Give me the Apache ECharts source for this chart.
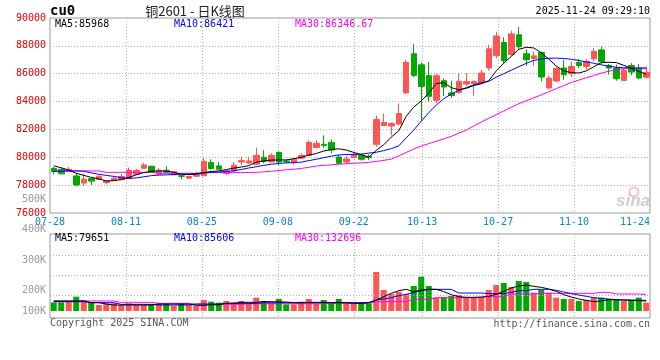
<!DOCTYPE html>
<html><head><meta charset="utf-8">
<script src="https://cdn.jsdelivr.net/npm/echarts@6/dist/echarts.min.js"></script>
<style>html,body{margin:0;padding:0;background:#fff}#c{width:660px;height:360px}</style>
</head><body><div id="c"></div>
<script>
// ---------- data ----------
const dates = ['07-28','07-29','07-30','07-31','08-01','08-04','08-05','08-06','08-07','08-08',
'08-11','08-12','08-13','08-14','08-15','08-18','08-19','08-20','08-21','08-22',
'08-25','08-26','08-27','08-28','08-29','09-01','09-02','09-03','09-04','09-05',
'09-08','09-09','09-10','09-11','09-12','09-15','09-16','09-17','09-18','09-19',
'09-22','09-23','09-24','09-25','09-26','09-29','09-30','10-09','10-10','10-13',
'10-14','10-15','10-16','10-17','10-20','10-21','10-22','10-23','10-24','10-27',
'10-28','10-29','10-30','10-31','11-03','11-04','11-05','11-06','11-07','11-10',
'11-11','11-12','11-13','11-14','11-17','11-18','11-19','11-20','11-21','11-24'];

const open = [79200,79140,79000,78660,78150,78480,78410,78190,78340,78400,
78500,78780,79210,79360,78790,79070,78740,78680,78500,78640,
78670,79620,79380,78840,79020,79660,79590,79500,80000,79660,
80340,79740,79620,79930,80140,80710,80930,81070,80020,79660,
79980,80140,80070,80930,82290,82240,82380,84620,87430,86640,
85860,84090,85500,84620,84660,85260,85290,85340,86410,87290,
88240,87380,88790,87430,87090,87520,84980,85480,86410,86000,
86810,86520,87070,87710,86580,86410,85520,86590,86410,85750];

const close = [78980,78810,79140,78010,78430,78290,78640,78310,78500,78620,
79080,79050,79450,78930,79070,78920,78980,78630,78620,78790,
79710,79190,79140,79020,79430,79760,79740,80140,79690,80140,
79660,79680,79860,80140,81070,81000,80860,80520,79570,79880,
80190,79860,80000,82710,82500,82430,83140,86810,85880,85090,
84380,85860,85050,84430,85450,85450,85450,86050,87790,88710,
86950,88860,87950,87000,87280,85760,85690,86380,85930,86520,
86590,86880,87590,86880,86410,85640,86240,86120,85690,86100];

const low = [78760,78780,78980,77950,77950,78000,78400,78050,78300,78330,
78430,78760,79150,78900,78760,78860,78740,78430,78450,78600,
78650,79100,79100,78710,78950,79430,79500,79450,79570,79600,
79380,79560,79460,79900,80100,80640,80690,80290,79500,79500,
79950,79760,79790,80760,82250,81570,82300,84550,85740,82590,
84020,83900,84390,84260,84550,85090,84430,85300,86240,87100,
86760,87300,87700,86570,86570,85450,84860,85380,85570,85760,
86400,86290,86900,86700,85930,85500,85500,85900,85600,85650];

const high = [79300,79230,79310,78860,78840,78500,78700,78330,78660,78800,
79260,79170,79600,79380,79210,79360,79000,78720,78680,78950,
79950,79860,79660,79070,79660,80020,80050,80690,80500,80290,
80430,79850,79950,80290,81210,81210,81570,81290,80140,80100,
80330,80290,80210,83000,83140,82500,83860,87000,88140,86810,
86830,86000,85650,85500,86050,86050,85500,86290,88070,89020,
88620,89090,89360,87760,87590,87590,85860,86520,87000,86890,
87070,87070,87840,87950,86700,86650,86350,86760,86700,86520];

const ma5 = [79380,79250,79080,78850,78700,78560,78450,78300,78320,78400,
78550,78740,78900,78990,79020,79010,78920,78790,78760,78780,
78900,78980,79020,79120,79220,79300,79400,79650,79750,79800,
79810,79810,79900,80000,80150,80270,80450,80560,80610,80520,
80350,80200,80000,80500,80900,81450,81900,82950,83600,84050,
84600,85300,85350,85000,84850,84950,85150,85280,85500,86200,
86750,87250,87750,87900,87850,87500,87050,86550,86200,86080,
86050,86200,86500,86800,86820,86800,86600,86400,86150,85968];

const ma10 = [78980,79010,79020,79020,79000,78880,78780,78700,78630,78540,
78480,78520,78600,78680,78720,78740,78760,78790,78800,78840,
78870,78920,78950,78990,79030,79120,79230,79320,79420,79500,
79560,79600,79620,79650,79760,79860,79970,80080,80170,80200,
80210,80220,80300,80360,80480,80620,80820,81400,81950,82600,
83200,83750,84200,84550,84800,85000,85200,85350,85450,85750,
86000,86250,86500,86750,86950,87060,87110,87120,87090,87040,
86950,86850,86750,86640,86550,86460,86430,86410,86410,86421];

const ma30 = [79020,79020,79020,79020,79020,79020,79020,78920,78920,78920,
78920,78920,78920,78920,78850,78850,78850,78850,78850,78850,
78900,78900,78900,78900,78900,78900,78910,78920,78950,79000,
79050,79100,79140,79200,79280,79370,79420,79460,79500,79540,
79570,79600,79640,79700,79780,79870,80100,80350,80600,80800,
80980,81150,81320,81500,81730,81950,82250,82520,82800,83050,
83330,83590,83850,84060,84260,84480,84700,84930,85140,85370,
85540,85710,85870,86040,86180,86290,86360,86400,86380,86347];

const volume = [69300,69300,74700,114700,88000,69300,48000,61300,61300,48000,
61300,48000,48000,53300,61300,61300,42700,61300,48000,40000,
88000,74700,66700,80000,69300,80000,66700,106700,80000,69300,
96000,53300,53300,74700,96000,61300,88000,69300,96000,69300,
69300,69300,61300,312000,168000,136000,154700,136000,200000,274700,
200000,109300,109300,120000,128000,109300,109300,109300,168000,208000,
224000,192000,240000,232000,146700,168000,146700,106700,96000,96000,
80000,88000,106700,106700,96000,88000,80000,88000,106700,66700];

const volMa5 = [80000,80000,80000,80000,80000,66700,66700,56000,48000,48000,
48000,48000,48000,48000,56000,56000,56000,56000,56000,45000,
45000,50000,50000,61300,61300,69300,69300,69300,74700,74700,
72000,72000,66700,66700,69300,69300,69300,66700,66700,66700,
61300,61300,66700,88000,114700,141300,162700,173300,154700,168000,
173300,173300,154700,130700,114700,109300,109300,112000,117300,133300,
157300,184000,200000,208000,197300,189300,176000,157300,130700,112000,
96000,85300,74700,80000,90700,90700,88000,85300,82700,79700];

const volMa10 = [74700,74700,74700,74700,74700,66700,66700,66700,66700,53300,
53300,53300,53300,53300,48000,48000,48000,48000,48000,56000,
56000,56000,56000,61300,61300,61300,61300,61300,66000,66000,
66000,66000,66000,66000,66000,66000,66000,66700,66700,66700,
66700,66700,66700,88000,96000,106700,122700,133300,149300,162700,
173300,173300,173300,173300,144000,144000,144000,144000,138700,138700,
138700,149300,162700,162700,173300,173300,173300,165300,152000,138700,
128000,117300,106700,101300,96000,90700,88000,88000,85300,85600];

const volMa30 = [80000,80000,80000,80000,80000,80000,80000,80000,80000,69300,
69300,69300,69300,69300,61300,61300,61300,61300,61300,54000,
54000,54000,54000,54000,54000,54000,58000,58000,58000,58000,
58000,58000,58000,58000,58000,58000,58000,61300,61300,61300,
61300,61300,61300,74700,74700,74700,74700,74700,93300,93300,
93300,106700,106700,106700,106700,106700,106700,106700,114700,114700,
114700,136000,136000,136000,136000,141300,141300,141300,141300,141300,
141300,141300,141300,149300,149300,136000,136000,136000,136000,132700];

const xTickLabels = ['07-28','08-11','08-25','09-08','09-22','10-13','10-27','11-10','11-24'];
const volTickLabels = ['100K','200K','300K','400K','500K'];
const priceLegend = ['MA5:85968','MA10:86421','MA30:86346.67'];
const volLegend = ['MA5:79651','MA10:85606','MA30:132696'];
const headerTexts = ['cu0','铜2601 - 日K线图','2025-11-24 09:29:10'];
const footerTexts = ['Copyright 2025 SINA.COM','http://finance.sina.com.cn'];

// ---------- styles ----------
const RED = '#ff5555', GREEN = '#00a800';
const MONO = 'DejaVu Sans Mono';
const dotted = {color:'#b4b4b4', type:[1,2], width:1};
const lastDate = dates[dates.length-1];
const gridSplit = (i, v) => i > 0 && i < dates.length-1 && xTickLabels.includes(v);

const candleData = dates.map((d,i) => [open[i], close[i], low[i], high[i]]);
const lineS = (data, color, xi, yi) => ({type:'line', data, xAxisIndex:xi, yAxisIndex:yi,
  symbol:'none', showSymbol:false, silent:true, lineStyle:{color, width:1}, itemStyle:{color}, z:5});

const txt = (text, x, y, fill, font, align) => ({type:'text', x, y, silent:true,
  style:{text, fill, font, align: align||'left', verticalAlign:'middle'}});

const option = {
  animation:false,
  grid:[
    {left:50, width:600, top:18, height:195, show:true, borderColor:'#999', borderWidth:1, outerBoundsMode:'none'},
    {left:50, width:600, top:234, height:84, show:true, borderColor:'#999', borderWidth:1, outerBoundsMode:'none'},
    {left:50, width:600, top:199.5, height:151.8, show:false, outerBoundsMode:'none'}
  ],
  xAxis:[
    {gridIndex:0, type:'category', data:dates, boundaryGap:false,
     axisLine:{show:false}, axisTick:{show:false},
     axisLabel:{interval:(i,v)=>xTickLabels.includes(v), color:'#0a86d0', fontFamily:MONO, fontSize:10, margin:4,
       formatter: v => v === lastDate ? '{r|'+v+'}' : v,
       rich:{r:{padding:[0,30,0,0], color:'#0a86d0', fontFamily:MONO, fontSize:10}}},
     splitLine:{show:true, interval:gridSplit, lineStyle:dotted}},
    {gridIndex:0, type:'category', data:dates, boundaryGap:true, show:false},
    {gridIndex:1, type:'category', data:dates, boundaryGap:false,
     axisLine:{show:false}, axisTick:{show:false}, axisLabel:{show:false},
     splitLine:{show:true, interval:gridSplit, lineStyle:dotted}},
    {gridIndex:1, type:'category', data:dates, boundaryGap:true, show:false},
    {gridIndex:2, type:'value', min:0, max:1, show:false}
  ],
  yAxis:[
    {gridIndex:0, type:'value', min:76000, max:90000, interval:2000,
     axisLine:{show:false}, axisTick:{show:false},
     axisLabel:{color:'#e60000', fontFamily:MONO, fontSize:10, margin:4, formatter: v => String(v)},
     splitLine:{show:true, lineStyle:dotted, showMinLine:false, showMaxLine:false}},
    {gridIndex:1, type:'value', min:-56000, max:616000,
     axisLine:{show:false}, axisTick:{show:false}, axisLabel:{show:false}, splitLine:{show:false}},
    {gridIndex:2, type:'value', min:0, max:500000, interval:100000,
     axisLine:{show:false}, axisTick:{show:false}, splitLine:{show:false},
     axisLabel:{color:'#999', fontFamily:MONO, fontSize:10, margin:4,
       formatter: v => { if (v === 0) return ''; const t = volTickLabels[Math.round(v/100000)-1] || '';
         return v === 100000 ? '{lift|'+t+'}' : t; },
       rich:{lift:{padding:[0,0,20,0], color:'#999', fontFamily:MONO, fontSize:10}}}}
  ],
  series:[
    {type:'candlestick', data:candleData, xAxisIndex:1, yAxisIndex:0, barWidth:6, silent:true,
     itemStyle:{color:RED, color0:GREEN, borderColor:RED, borderColor0:GREEN, borderWidth:1}},
    lineS(ma30, '#ff00ff', 1, 0),
    lineS(ma10, '#0000ff', 1, 0),
    lineS(ma5, '#000000', 1, 0),
    {type:'bar', data:volume, xAxisIndex:3, yAxisIndex:1, barWidth:6, silent:true,
     itemStyle:{color: p => close[p.dataIndex] >= open[p.dataIndex] ? RED : GREEN},
     markLine:{silent:true, symbol:'none', label:{show:false}, lineStyle:dotted,
       data:[{yAxis:128000},{yAxis:288000},{yAxis:448000}]}},
    lineS(volMa30, '#ff00ff', 3, 1),
    lineS(volMa10, '#0000ff', 3, 1),
    lineS(volMa5, '#000000', 3, 1)
  ],
  graphic:[
    txt(headerTexts[0], 50, 11, '#000', 'bold 14px "DejaVu Sans Mono"'),
    txt(headerTexts[1], 195, 11, '#222', '13px "Noto Sans CJK SC"', 'center'),
    txt(headerTexts[2], 650, 11, '#000', '10px "DejaVu Sans Mono"', 'right'),
    txt(priceLegend[0], 55, 24, '#000', '10px "DejaVu Sans Mono"'),
    txt(priceLegend[1], 174, 24, '#0000ff', '10px "DejaVu Sans Mono"'),
    txt(priceLegend[2], 295, 24, '#ff00ff', '10px "DejaVu Sans Mono"'),
    txt(volLegend[0], 55, 238, '#000', '10px "DejaVu Sans Mono"'),
    txt(volLegend[1], 174, 238, '#0000ff', '10px "DejaVu Sans Mono"'),
    txt(volLegend[2], 295, 238, '#ff00ff', '10px "DejaVu Sans Mono"'),
    txt(footerTexts[0], 50, 323, '#555', '10px "DejaVu Sans Mono"'),
    txt(footerTexts[1], 650, 324, '#555', '10px "DejaVu Sans Mono"', 'right'),
    {type:'circle', silent:true, shape:{cx:634, cy:192, r:4.5}, style:{fill:'none', stroke:'#f2c4c4', lineWidth:2}},
    txt('sina', 650, 201, '#cfcfcf', 'italic bold 17px "Liberation Sans"', 'right')
  ]
};

const chart = echarts.init(document.getElementById('c'), null, {renderer:'canvas'});
chart.setOption(option);
</script></body></html>
